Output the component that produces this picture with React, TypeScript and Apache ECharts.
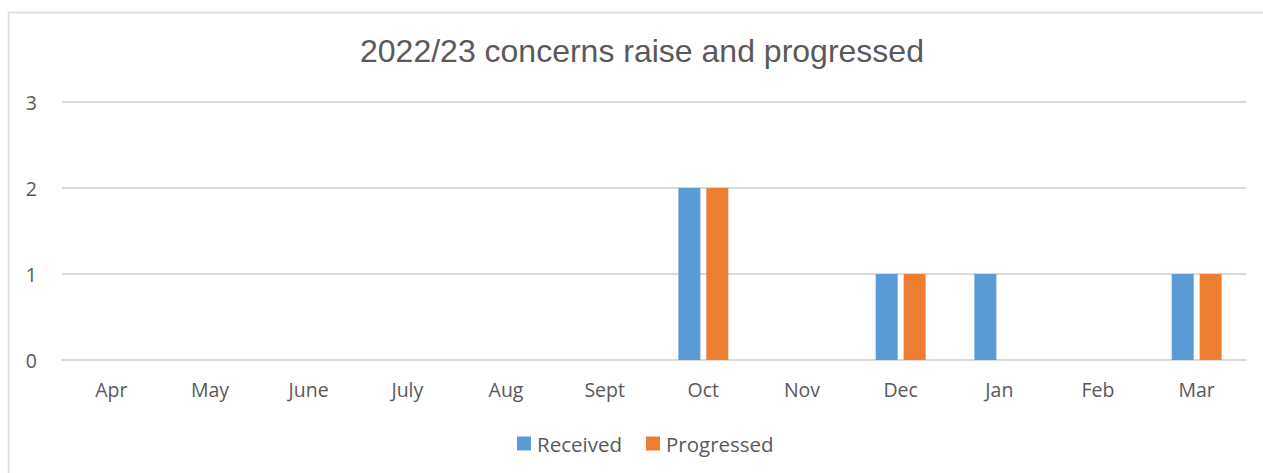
import React, { useEffect, useRef } from "react";
import * as echarts from "echarts";

const categories = ["Apr", "May", "June", "July", "Aug", "Sept", "Oct", "Nov", "Dec", "Jan", "Feb", "Mar"];
const received = [0, 0, 0, 0, 0, 0, 2, 0, 1, 1, 0, 1];
const progressed = [0, 0, 0, 0, 0, 0, 2, 0, 1, 0, 0, 1];
const yTicks = { min: 0, max: 3, interval: 1 };

export default function App() {
  const ref = useRef<HTMLDivElement>(null);
  useEffect(() => {
    if (!ref.current) return;
    const chart = echarts.init(ref.current, null, { renderer: "svg" });
    const labelFont = "'Open Sans', 'Noto Sans', sans-serif";
    chart.setOption({
      animation: false,
      backgroundColor: "#ffffff",
      title: {
        text: "2022/23 concerns raise and progressed",
        left: 355,
        top: 30,
        textStyle: { fontFamily: "'Liberation Sans', Arial, sans-serif", fontSize: 32, fontWeight: "normal", color: "#595959" },
      },
      graphic: [
        {
          type: "rect",
          shape: { x: 8.5, y: 12.5, width: 1270, height: 480 },
          style: { fill: "none", stroke: "#d9d9d9", lineWidth: 1.5 },
          silent: true,
        },
      ],
      legend: {
        left: 512,
        top: 428,
        itemWidth: 14,
        itemHeight: 14,
        itemGap: 24,
        icon: "rect",
        textStyle: { fontFamily: labelFont, fontSize: 20.5, color: "#595959", padding: [0, 0, 0, 1] },
        data: ["Received", "Progressed"],
      },
      grid: { left: 62, right: 17, top: 102, bottom: 113 },
      xAxis: {
        type: "category",
        data: categories,
        axisLine: { lineStyle: { color: "#d9d9d9", width: 2 } },
        axisTick: { show: false },
        axisLabel: { color: "#595959", fontFamily: labelFont, fontSize: 19.5, margin: 19 },
      },
      yAxis: {
        type: "value",
        min: yTicks.min,
        max: yTicks.max,
        interval: yTicks.interval,
        axisLine: { show: false },
        axisTick: { show: false },
        axisLabel: { color: "#595959", fontFamily: labelFont, fontSize: 19.5, margin: 25 },
        splitLine: { lineStyle: { color: "#d9d9d9", width: 2 } },
      },
      series: [
        { name: "Received", type: "bar", data: received, barWidth: 22, barGap: "27%", itemStyle: { color: "#5B9BD5" } },
        { name: "Progressed", type: "bar", data: progressed, barWidth: 22, itemStyle: { color: "#ED7D31" } },
      ],
    });
    return () => chart.dispose();
  }, []);
  return <div ref={ref} style={{ position: "fixed", left: 0, top: 0, width: 1263, height: 473 }} />;
}
